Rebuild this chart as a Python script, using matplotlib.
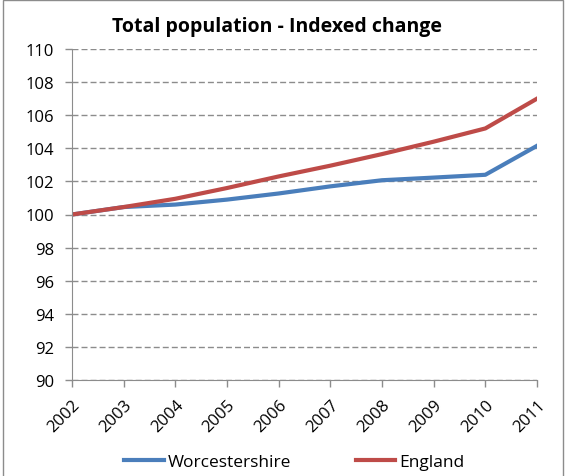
import matplotlib.pyplot as plt
from matplotlib.patches import Rectangle

plt.rcParams['font.family'] = ['Open Sans', 'DejaVu Sans']

years = ['2002', '2003', '2004', '2005', '2006', '2007', '2008', '2009', '2010', '2011']
worcestershire = [100.0, 100.45, 100.6, 100.9, 101.27, 101.7, 102.07, 102.23, 102.4, 104.15]
england = [100.0, 100.45, 100.95, 101.6, 102.3, 102.95, 103.65, 104.4, 105.2, 107.0]

fig = plt.figure(figsize=(5.66, 4.77), dpi=100)
ax = fig.add_axes([72/566, 1-381/477, (537-72)/566, (381-50)/477])

# Excel style chart border
fig.patches.append(Rectangle((3/566, -0.1), 560/566, 1.1 - 1/477, transform=fig.transFigure,
                             fill=False, edgecolor='#8c8c8c', linewidth=1))

x = range(len(years))
ax.plot(x, worcestershire, color='#4a7ebb', linewidth=3, label='Worcestershire')
ax.plot(x, england, color='#be4b48', linewidth=3, label='England')

ax.set_xlim(0, len(years) - 1)
ax.set_ylim(90, 110)
ax.set_yticks(range(90, 111, 2))
ax.set_xticks(list(x))
ax.set_xticklabels(years, rotation=45, ha='right', rotation_mode='anchor')
ax.grid(axis='y', linestyle=(0, (4.3, 2.2)), color='#8c8c8c', linewidth=1)
ax.set_axisbelow(True)

for s in ['top', 'right']:
    ax.spines[s].set_visible(False)
for s in ['left', 'bottom']:
    ax.spines[s].set_color('#8c8c8c')
ax.tick_params(axis='both', colors='#8c8c8c', labelcolor='black', labelsize=12, length=5, width=1)
ax.tick_params(axis='y', pad=8)
ax.tick_params(axis='x', pad=7)

fig.text(0.49, 1 - 27/477, 'Total population - Indexed change', ha='center', va='center',
         fontsize=14, fontweight='bold')

fig.legend(loc='center', bbox_to_anchor=(0.52, 1 - 463/477), ncol=2, frameon=False,
           fontsize=12.5, handlelength=2.25, columnspacing=3.7, handletextpad=0.25)

fig.savefig('out.png', dpi=100)
